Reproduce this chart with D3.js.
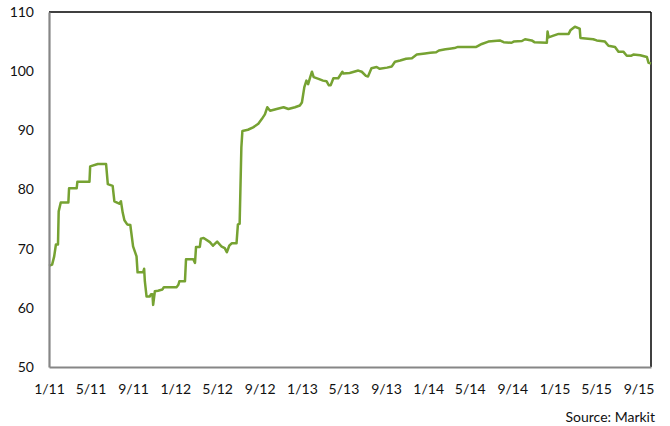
<!DOCTYPE html>
<html>
<head>
<meta charset="utf-8">
<script src="https://cdn.jsdelivr.net/npm/d3@7"></script>
<style>
  html, body { margin: 0; padding: 0; background: #fff; }
  svg { display: block; }
  text { font-family: Lato, "Open Sans", sans-serif; fill: #111; }
</style>
</head>
<body>
<svg id="chart" width="670" height="426"></svg>
<script>
// ---- data ----
const dates = [
  "2011-01-01","2011-01-10","2011-01-16","2011-01-21","2011-01-27","2011-01-29","2011-02-04","2011-02-26",
  "2011-02-28","2011-03-22","2011-03-24","2011-04-28","2011-04-30","2011-05-22","2011-06-15","2011-06-20",
  "2011-07-04","2011-07-09","2011-07-23","2011-07-28","2011-08-02","2011-08-07","2011-08-15","2011-08-24",
  "2011-09-01","2011-09-11","2011-09-14","2011-09-30","2011-10-03","2011-10-05","2011-10-10","2011-10-19",
  "2011-10-23","2011-10-27","2011-10-29","2011-11-03","2011-11-12","2011-11-25","2011-11-29","2012-01-05",
  "2012-01-10","2012-01-13","2012-01-29","2012-02-01","2012-02-22","2012-02-27","2012-03-01","2012-03-12",
  "2012-03-15","2012-03-23","2012-04-10","2012-04-19","2012-05-01","2012-05-13","2012-05-23","2012-05-29",
  "2012-06-05","2012-06-12","2012-06-26","2012-06-30","2012-07-05","2012-07-10","2012-07-13","2012-07-29",
  "2012-08-13","2012-08-28","2012-09-07","2012-09-16","2012-09-23","2012-10-01","2012-10-20","2012-11-09",
  "2012-11-23","2012-12-12","2012-12-26","2013-01-01","2013-01-08","2013-01-14","2013-01-19","2013-01-25",
  "2013-01-30","2013-02-04","2013-02-18","2013-03-03","2013-03-13","2013-03-20","2013-03-25","2013-04-02",
  "2013-04-16","2013-04-28","2013-04-30","2013-05-19","2013-06-13","2013-06-23","2013-07-05","2013-07-11",
  "2013-07-21","2013-08-05","2013-08-14","2013-09-04","2013-09-18","2013-09-27","2013-10-12","2013-10-29",
  "2013-11-15","2013-11-29","2013-12-23","2014-01-07","2014-01-24","2014-02-01","2014-02-20","2014-03-04",
  "2014-03-18","2014-03-28","2014-05-20","2014-06-05","2014-06-24","2014-07-27","2014-08-07","2014-08-30",
  "2014-09-05","2014-09-29","2014-10-08","2014-10-27","2014-11-04","2014-12-10","2014-12-12","2014-12-15",
  "2014-12-29","2015-01-13","2015-02-11","2015-02-16","2015-03-01","2015-03-15","2015-03-17","2015-04-23",
  "2015-05-03","2015-05-27","2015-06-06","2015-06-25","2015-07-05","2015-07-19","2015-07-29","2015-08-10",
  "2015-08-17","2015-09-06","2015-09-25","2015-09-30","2015-10-07"
];
const values = [
  67.1,67.3,68.7,70.7,70.7,76.3,77.8,77.8,
  80.2,80.2,81.3,81.3,83.9,84.3,84.3,80.9,
  80.6,78.0,77.6,78.0,76.1,74.8,74.1,74.0,
  70.4,68.7,66.0,66.0,66.6,64.5,61.9,61.9,
  62.3,62.3,60.5,62.8,62.9,63.1,63.5,63.5,
  63.9,64.5,64.5,68.2,68.2,67.6,70.3,70.3,
  71.7,71.8,71.1,70.5,71.2,70.4,70.1,69.4,
  70.5,70.9,70.9,74.1,74.2,87.1,89.9,90.1,
  90.5,91.1,91.9,92.7,93.9,93.3,93.6,93.9,
  93.6,93.9,94.2,94.7,97.3,98.4,97.8,99.0,
  99.9,99.0,98.7,98.4,98.3,97.6,97.6,98.8,
  98.8,99.9,99.6,99.7,100.1,99.9,99.2,99.1,
  100.5,100.7,100.4,100.6,100.8,101.6,101.8,102.1,
  102.2,102.8,103.0,103.1,103.2,103.5,103.7,103.8,
  103.9,104.1,104.1,104.6,105.0,105.2,104.9,104.8,
  105.0,105.1,105.4,105.2,104.9,104.8,106.7,105.7,
  106.0,106.3,106.3,106.9,107.5,107.2,105.6,105.4,
  105.2,105.0,104.3,104.1,103.3,103.3,102.6,102.6,
  102.8,102.7,102.4,101.4,101.3
];
const xTickLabels = ["1/11","5/11","9/11","1/12","5/12","9/12","1/13","5/13","9/13","1/14","5/14","9/14","1/15","5/15","9/15"];
const yTicks = [50,60,70,80,90,100,110];
const xDomain = ["2011-01-01","2015-10-07"];
const yDomain = [50,110];
const sourceText = "Source: Markit";

// ---- drawing ----
const parse = d3.timeParse("%Y-%m-%d");
const data = dates.map((d,i) => ({date: parse(d), value: values[i]}));
const margin = {left: 49, right: 19, top: 12, bottom: 59};
const W = 670, H = 426;
const FS = 14;
const svg = d3.select("#chart");

const x = d3.scaleTime().domain(xDomain.map(parse)).range([margin.left, W - margin.right]);
const y = d3.scaleLinear().domain(yDomain).range([H - margin.bottom, margin.top]);

const tickDates = xTickLabels.map(s => {
  const [m, yy] = s.split("/").map(Number);
  return new Date(2000 + yy, m - 1, 1);
});

// frame: top/right black
svg.append("line").attr("x1", margin.left).attr("x2", W - margin.right)
  .attr("y1", margin.top).attr("y2", margin.top).attr("stroke", "#000").attr("stroke-width", 1.5);
svg.append("line").attr("x1", W - margin.right).attr("x2", W - margin.right)
  .attr("y1", margin.top).attr("y2", H - margin.bottom).attr("stroke", "#000").attr("stroke-width", 1.5);

// line
svg.append("path").datum(data)
  .attr("fill", "none").attr("stroke", "#76a232").attr("stroke-width", 2.5)
  .attr("stroke-linejoin", "round")
  .attr("d", d3.line().x(d => x(d.date)).y(d => y(d.value)));

// axes
const xAxis = svg.append("g").attr("transform", `translate(0,${H - margin.bottom})`)
  .call(d3.axisBottom(x).tickValues(tickDates).tickFormat((d,i) => xTickLabels[i]).tickSize(0).tickPadding(17));
xAxis.select(".domain").attr("stroke", "#868686").attr("stroke-width", 2.2);
xAxis.selectAll("text").attr("font-size", FS).attr("fill", "#111").style("font-family", "Lato");

const yAxis = svg.append("g").attr("transform", `translate(${margin.left},0)`)
  .call(d3.axisLeft(y).tickValues(yTicks).tickSize(0).tickPadding(15));
yAxis.select(".domain").attr("stroke", "#868686").attr("stroke-width", 2.2);
yAxis.selectAll("text").attr("font-size", FS).attr("fill", "#111").style("font-family", "Lato");

svg.append("text").attr("x", 655).attr("y", 422).attr("text-anchor", "end")
  .attr("font-size", FS).text(sourceText);
</script>
</body>
</html>
